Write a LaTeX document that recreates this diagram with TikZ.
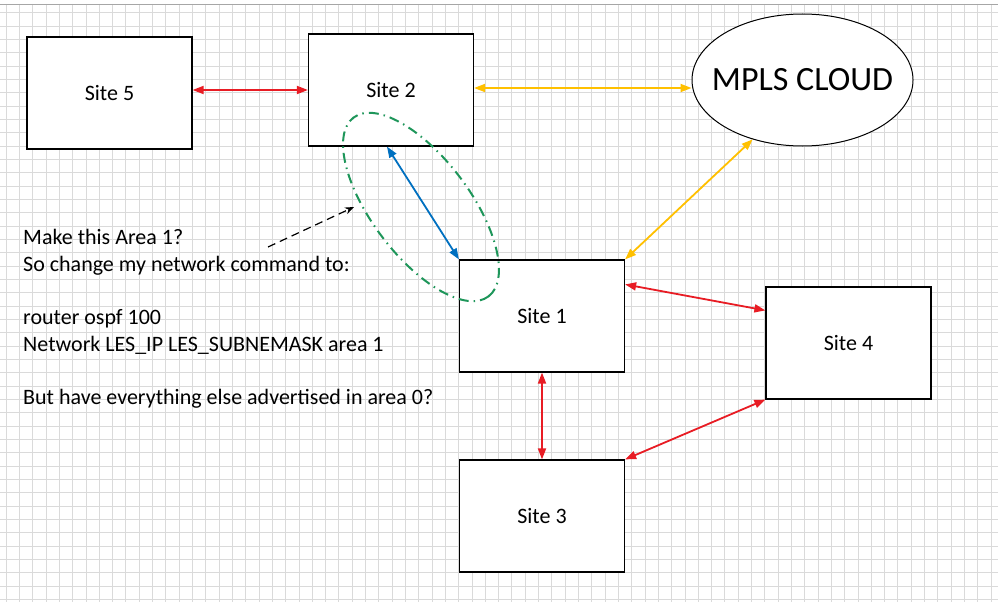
\documentclass[tikz,border=0pt]{standalone}
\usepackage{fontspec}
\setmainfont{Carlito}
\usetikzlibrary{calc, shapes.geometric, arrows.meta}
\definecolor{linkRed}{RGB}{232, 28, 36}
\definecolor{linkGold}{RGB}{255, 192, 0}
\definecolor{linkBlue}{RGB}{0, 112, 192}
\definecolor{areaGreen}{RGB}{30, 150, 90}
\definecolor{gridGray}{RGB}{218, 218, 218}

\begin{document}
\begin{tikzpicture}[
    x=1pt, y=-1pt,
    site/.style={rectangle, draw=black, fill=white, line width=1.2pt,
                 minimum width=165pt, minimum height=112pt, inner sep=0pt,
                 font=\fontsize{22}{26}\selectfont},
    cloud/.style={ellipse, draw=black, fill=white, line width=1pt,
                  minimum width=221pt, minimum height=132pt, inner sep=0pt,
                  label={[font=\fontsize{34}{40}\selectfont]center:#1}},
    link/.style={line width=1.8pt,
                 {Triangle[length=11pt,width=8pt]}-{Triangle[length=11pt,width=8pt]}},
    gridline/.style={gridGray, line width=0.6pt},
  ]
    \useasboundingbox (0,0) rectangle (998,602);
    \fill[white] (0,0) rectangle (998,602);
    \foreach \i in {0,...,74} \draw[gridline] ({6+13.31*\i},4) -- ({6+13.31*\i},602);
    \foreach \j in {1,...,45} \draw[gridline] (0,{13.33*\j-0.6}) -- (998,{13.33*\j-0.6});
    \draw[gray!70, line width=0.6pt] (0,4) -- (998,4);

    \node[site] (s5) at (109.5,93) {Site 5};
    \node[site] (s2) at (391,90) {Site 2};
    \node[cloud=MPLS CLOUD] (mpls) at (802.5,80) {};
    \node[site] (s1) at (542,316) {Site 1};
    \node[site] (s4) at (848.5,343) {Site 4};
    \node[site] (s3) at (542,516) {Site 3};

    \node[anchor=north west, align=left, inner sep=0pt,
          font=\fontsize{22}{26.7}\selectfont] (question) at (23,229)
      {Make this Area 1?\\ So change my network command to:\\[26.7pt]
       router ospf 100\\ Network LES\_IP LES\_SUBNEMASK area 1\\[26.7pt]
       But have everything else advertised in area 0?};

    \draw[link, linkRed] (s5.east |- s2.west) -- (s2.west);
    \draw[link, linkGold] ([yshift=2pt]s2.east) -- ([yshift=2pt]s2.east -| mpls.west);
    \draw[link, linkGold] (mpls.230) -- (s1.north east);
    \draw[link, linkRed] ([yshift=-25pt]s1.north east) -- ([yshift=-24pt]s4.north west);
    \draw[link, linkRed] (s1.south) -- (s3.north);
    \draw[link, linkRed] (s3.north east) -- (s4.south west);

    \node[ellipse, draw=areaGreen, line width=2pt, rotate=-53,
          minimum width=224pt, minimum height=98pt,
          dash pattern=on 10pt off 5pt on 1.5pt off 5pt] (area1) at (421,207) {};
    \draw[link, linkBlue] ([xshift=-4pt]s2.south) -- (s1.north west);

    \coordinate (hint) at (268,247);
    \coordinate (target) at (354,207);
    \draw[-{Stealth[length=9pt,width=7pt]}, line width=1.2pt, dash pattern=on 8pt off 5pt] (hint) -- (target);
  \end{tikzpicture}
\end{document}
